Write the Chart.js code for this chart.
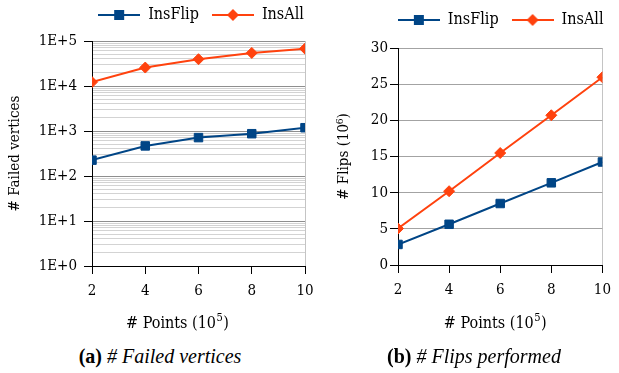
<!DOCTYPE html>
<html>
<head>
<meta charset="utf-8">
<script src="https://cdn.jsdelivr.net/npm/chart.js@4/dist/chart.umd.min.js"></script>
<style>
  body { margin: 0; background: #fff; width: 619px; height: 373px; position: relative; overflow: hidden; }
  canvas { position: absolute; }
  #leftChart { left: 0; top: -6px; }
  #rightChart { left: 320px; top: -1px; }
  .caption { position: absolute; top: 345px; font-family: "Liberation Serif", serif; font-size: 20px; color: #000; white-space: nowrap; transform: translateX(-50%); }
  .caption i { font-style: italic; }
</style>
</head>
<body>
<canvas id="leftChart" width="330" height="345"></canvas>
<canvas id="rightChart" width="299" height="345"></canvas>
<div class="caption" style="left:160px"><b>(a)</b> <i># Failed vertices</i></div>
<div class="caption" style="left:474px"><b>(b)</b> <i># Flips performed</i></div>
<script>
// values
const points = [2, 4, 6, 8, 10];
const failedInsFlip = [225, 466, 713, 871, 1183];
const failedInsAll = [12200, 25700, 39400, 54300, 67600];
const flipsInsFlip = [2.84, 5.63, 8.5, 11.36, 14.24];
const flipsInsAll = [5.04, 10.2, 15.48, 20.7, 25.96];
const failedTickLabels = ['1E+0', '1E+1', '1E+2', '1E+3', '1E+4', '1E+5'];
const flipsTicks = [0, 5, 10, 15, 20, 25, 30];

const BLUE = '#004586';
const ORANGE = '#ff420e';
const FONT = "'DejaVu Serif Condensed', 'DejaVu Serif', serif";
const TEXT = '#000';

Chart.defaults.font.family = FONT;
Chart.defaults.font.size = 15;
Chart.defaults.color = TEXT;

// legend swatch: short line with the marker in the middle
function swatch(color, style) {
  const c = document.createElement('canvas');
  c.width = 42; c.height = 14;
  const g = c.getContext('2d');
  g.strokeStyle = color; g.fillStyle = color; g.lineWidth = 2;
  g.beginPath(); g.moveTo(0, 7); g.lineTo(42, 7); g.stroke();
  g.beginPath();
  if (style === 'rect') g.rect(16, 2, 10, 10);
  else { g.moveTo(21, 1); g.lineTo(27, 7); g.lineTo(21, 13); g.lineTo(15, 7); g.closePath(); }
  g.fill();
  return c;
}

function legendOpts() {
  return {
    position: 'top',
    fullSize: false,
    labels: {
      usePointStyle: true,
      pointStyleWidth: 42,
      padding: 13,
      font: { size: 16 },
      generateLabels: chart => chart.data.datasets.map((ds, i) => ({
        text: ds.label,
        pointStyle: swatch(ds.borderColor, ds.pointStyle),
        fillStyle: ds.borderColor,
        strokeStyle: ds.borderColor,
        lineWidth: 0,
        datasetIndex: i
      }))
    }
  };
}

// keep the legend on one row over the plot and leave some room under it
const legendGap = {
  id: 'legendGap',
  afterInit(chart, args, opts) {
    const lg = chart.legend;
    const fit = lg.fit;
    const draw = lg.draw;
    lg.fit = function () {
      this.maxWidth = 1000;
      fit.call(this);
      this.height += opts.extra;
    };
    lg.draw = function () {
      const l = this.left, r = this.right;
      const c = (l + r) / 2 + opts.dx;
      this.left = c - 400; this.right = c + 400;
      draw.call(this);
      this.left = l; this.right = r;
    };
  }
};

// x axis title with a real superscript, centred like the original
const xTitle = {
  id: 'xTitle',
  afterDraw(chart, args, opts) {
    const { ctx, chartArea } = chart;
    const big = '16px ' + FONT, small = '11px ' + FONT;
    ctx.save();
    ctx.fillStyle = TEXT;
    ctx.textBaseline = 'alphabetic';
    ctx.font = big;
    const w1 = ctx.measureText(opts.text).width;
    const w3 = ctx.measureText(')').width;
    ctx.font = small;
    const w2 = ctx.measureText(opts.sup).width + 1;
    let x = (chartArea.left + chartArea.right) / 2 + opts.dx - (w1 + w2 + w3) / 2;
    const y = chartArea.bottom + opts.dy;
    ctx.font = big;
    ctx.fillText(opts.text, x, y);
    ctx.font = small;
    ctx.fillText(opts.sup, x + w1 + 0.5, y - 7);
    ctx.font = big;
    ctx.fillText(')', x + w1 + w2, y);
    ctx.restore();
  }
};

function series(label, data, color, style, radius) {
  return {
    label: label,
    data: points.map((p, i) => ({ x: p, y: data[i] })),
    borderColor: color,
    backgroundColor: color,
    borderWidth: 2,
    pointStyle: style,
    pointRadius: radius,
    pointBorderWidth: 1,
    tension: 0
  };
}

function xAxis(height) {
  return {
    type: 'linear',
    min: 2, max: 10,
    afterBuildTicks: s => { s.ticks = points.map(v => ({ value: v })); },
    afterFit: s => { s.height = height; },
    border: { color: '#000', width: 1 },
    grid: {
      drawOnChartArea: true,
      color: c => (c.tick && c.tick.value === 10 ? '#c4c4c4' : 'rgba(0,0,0,0)'),
      tickColor: '#000',
      tickLength: 8
    },
    ticks: { padding: 8, maxRotation: 0 }
  };
}

// (a) failed vertices, log scale
new Chart(document.getElementById('leftChart'), {
  type: 'line',
  data: {
    datasets: [
      series('InsFlip', failedInsFlip, BLUE, 'rect', 6),
      series('InsAll', failedInsAll, ORANGE, 'rectRot', 5.5)
    ]
  },
  options: {
    responsive: false,
    animation: false,
    layout: { padding: { left: 0, right: 25, top: 0, bottom: 0 } },
    plugins: {
      legend: legendOpts(),
      legendGap: { extra: 8, dx: 2.5 },
      xTitle: { text: '# Points (10', sup: '5', dx: -21, dy: 62 },
      tooltip: { enabled: false }
    },
    scales: {
      x: xAxis(73),
      y: {
        type: 'logarithmic',
        min: 1, max: 100000,
        afterFit: s => { s.width = 92; },
        afterBuildTicks: s => {
          const t = [];
          for (let e = 0; e < failedTickLabels.length; e++) {
            for (let m = 1; m <= 9; m++) {
              const v = m * Math.pow(10, e);
              if (v > 100000) break;
              t.push({ value: v, major: m === 1 });
            }
          }
          s.ticks = t;
        },
        border: { color: '#000', width: 1 },
        grid: {
          color: c => (c.tick && c.tick.major ? '#8e8e8e' : '#d3d3d3'),
          tickColor: c => (c.tick && c.tick.major ? '#000' : 'rgba(0,0,0,0)'),
          tickLength: 8
        },
        ticks: {
          autoSkip: false,
          padding: 7,
          callback: function (v) {
            const e = Math.log10(v);
            return Math.abs(e - Math.round(e)) < 1e-9 ? failedTickLabels[Math.round(e)] : '';
          }
        },
        title: { display: true, text: '# Failed vertices', padding: { top: 6, bottom: 0 } }
      }
    }
  },
  plugins: [legendGap, xTitle]
});

// (b) flips performed
new Chart(document.getElementById('rightChart'), {
  type: 'line',
  data: {
    datasets: [
      series('InsFlip', flipsInsFlip, BLUE, 'rect', 6),
      series('InsAll', flipsInsAll, ORANGE, 'rectRot', 5.5)
    ]
  },
  options: {
    responsive: false,
    animation: false,
    layout: { padding: { left: 0, right: 10, top: 0, bottom: 0 } },
    plugins: {
      legend: legendOpts(),
      legendGap: { extra: 10, dx: 0.5 },
      xTitle: { text: '# Points (10', sup: '5', dx: -5, dy: 63 },
      tooltip: { enabled: false }
    },
    scales: {
      x: xAxis(79),
      y: {
        type: 'linear',
        min: 0, max: 30,
        afterFit: s => { s.width = 78; },
        afterBuildTicks: s => { s.ticks = flipsTicks.map(v => ({ value: v })); },
        border: { color: '#000', width: 1 },
        grid: { color: '#a3a3a3', tickColor: '#000', tickLength: 8 },
        ticks: { padding: 2 },
        title: { display: true, text: '# Flips (10\u2076)', padding: { top: 15, bottom: 0 } }
      }
    }
  },
  plugins: [legendGap, xTitle]
});
</script>
</body>
</html>
